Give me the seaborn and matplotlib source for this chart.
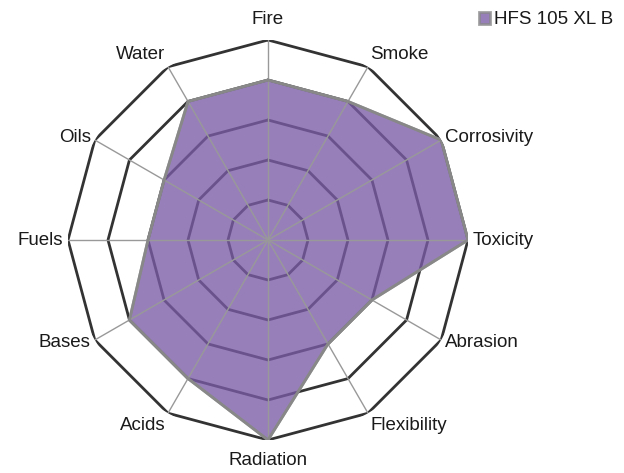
import numpy as np
import matplotlib
matplotlib.use("Agg")
import matplotlib.pyplot as plt
import seaborn as sns

categories = ["Fire", "Smoke", "Corrosivity", "Toxicity", "Abrasion", "Flexibility",
              "Radiation", "Acids", "Bases", "Fuels", "Oils", "Water"]
values = [4, 4, 5, 5, 3, 3, 5, 4, 4, 3, 3, 4]
series_name = "HFS 105 XL B"
levels = [1, 2, 3, 4, 5]

sns.set_style("white")
plt.rcParams['font.family'] = ['Liberation Sans', 'DejaVu Sans']

fig = plt.figure(figsize=(6.24, 4.73), dpi=100)
ax = fig.add_axes([68 / 624, 33 / 473, 400 / 624, 400 / 473], projection="polar")
ax.set_theta_offset(np.pi / 2)
ax.set_theta_direction(-1)
ax.set_ylim(0, 5)
ax.grid(False)
ax.spines["polar"].set_visible(False)
ax.set_xticks([])
ax.set_yticks([])

n = len(categories)
angles = np.linspace(0, 2 * np.pi, n, endpoint=False)
closed = np.append(angles, angles[0])

# polygon rings
for lv in levels:
    ax.plot(closed, [lv] * (n + 1), color="#333333", lw=2, zorder=1)

# data
vals = values + values[:1]
ax.fill(closed, vals, color="#7a5ca6", alpha=0.78, zorder=2, label=series_name,
        edgecolor="#888888", linewidth=2)
ax.plot(closed, vals, color="#888888", lw=2, zorder=4)

# spokes
for a in angles:
    ax.plot([a, a], [0, 5], color="#999999", lw=1, zorder=3)

# labels
for a, lab in zip(angles, categories):
    s, c = np.sin(a), np.cos(a)
    ha = "center" if abs(s) < 0.1 else ("left" if s > 0 else "right")
    if c > 0.8:
        va = "bottom"
    elif c < -0.8:
        va = "top"
    else:
        va = "center"
    r = 5.3 if abs(s) < 0.1 else 5.12
    ax.text(a, r, lab, ha=ha, va=va, fontsize=13.5, color="#1a1a1a")

fig.legend(loc="upper right", bbox_to_anchor=(1.0, 1.0), frameon=False,
           fontsize=13.5, handlelength=0.6, handleheight=0.6, handletextpad=0.2,
           borderaxespad=0.2, labelcolor="#1a1a1a")

fig.savefig("out.png", dpi=100)
